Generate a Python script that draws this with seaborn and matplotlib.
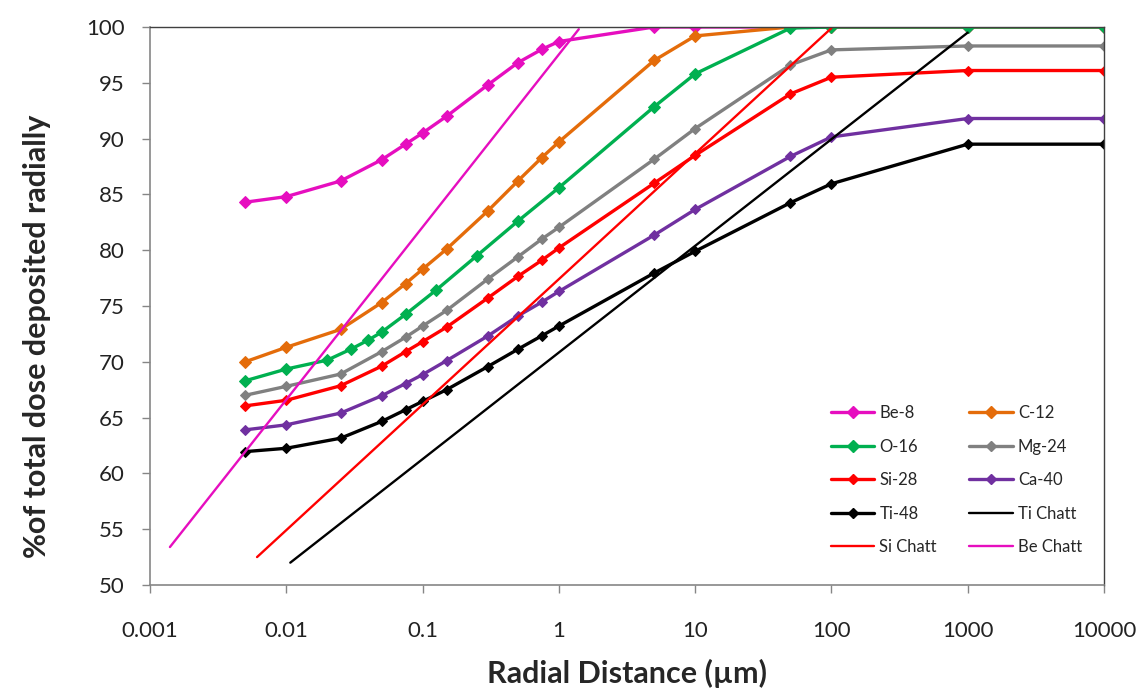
import matplotlib
matplotlib.use("Agg")
import matplotlib.pyplot as plt
import seaborn as sns
from matplotlib.lines import Line2D

# radial distance (um) for the simulated ions
x_std = [0.005, 0.01, 0.025, 0.05, 0.075, 0.1, 0.15, 0.3, 0.5, 0.75, 1,
         5, 10, 50, 100, 1000, 10000]
x_o16 = [0.005, 0.01, 0.02, 0.03, 0.04, 0.05, 0.075, 0.125, 0.25, 0.5, 1,
         5, 10, 50, 100, 1000, 10000]

be8 = [84.3, 84.8, 86.2, 88.1, 89.5, 90.5, 92.0, 94.8, 96.8, 98.0, 98.7,
       100, 100, 100, 100, 100, 100]
c12 = [70.0, 71.3, 72.9, 75.3, 77.0, 78.3, 80.1, 83.5, 86.2, 88.3, 89.7,
       97.0, 99.2, 100, 100, 100, 100]
o16 = [68.3, 69.35, 70.15, 71.15, 71.95, 72.65, 74.25, 76.4, 79.5, 82.6, 85.6,
       92.85, 95.8, 99.9, 100, 100, 100]
mg24 = [67.0, 67.8, 68.9, 70.9, 72.2, 73.2, 74.6, 77.4, 79.4, 81.0, 82.05,
        88.15, 90.9, 96.6, 97.95, 98.3, 98.3]
si28 = [66.05, 66.55, 67.85, 69.6, 70.9, 71.8, 73.1, 75.7, 77.65, 79.1, 80.2,
        86.0, 88.5, 94.0, 95.5, 96.1, 96.1]
ca40 = [63.9, 64.35, 65.4, 66.95, 68.05, 68.85, 70.1, 72.3, 74.1, 75.35, 76.3,
        81.35, 83.65, 88.4, 90.15, 91.8, 91.8]
ti48 = [61.95, 62.25, 63.15, 64.65, 65.7, 66.45, 67.5, 69.56, 71.12, 72.33, 73.2,
        77.95, 79.9, 84.25, 85.95, 89.5, 89.5]

# Chatterjee model lines (straight on the log axis)
ti_chatt_x = [0.0107, 1000]
ti_chatt_y = [52.0, 99.5]
si_chatt_x = [0.0061, 100]
si_chatt_y = [52.5, 99.9]
be_chatt_x = [0.0014, 1.4]
be_chatt_y = [53.4, 99.8]

x_ticks = [0.001, 0.01, 0.1, 1, 10, 100, 1000, 10000]
x_ticklabels = ["0.001", "0.01", "0.1", "1", "10", "100", "1000", "10000"]
y_ticks = list(range(50, 101, 5))

PINK, ORANGE, GREEN = "#E60EBF", "#E46C0A", "#00B050"
GRAY, RED, PURPLE, BLACK = "#808080", "#FF0000", "#7030A0", "#000000"

sns.set_style("white")
plt.rcParams["font.family"] = ["Lato", "DejaVu Sans"]

fig = plt.figure(figsize=(11.4, 6.94), dpi=100)
ax = fig.add_axes([0.1316, 0.1571, 0.8368, 0.804])

ions = [
    ("Be-8", x_std, be8, PINK, 6.5),
    ("C-12", x_std, c12, ORANGE, 6.5),
    ("O-16", x_o16, o16, GREEN, 6.5),
    ("Mg-24", x_std, mg24, GRAY, 5),
    ("Si-28", x_std, si28, RED, 5),
    ("Ca-40", x_std, ca40, PURPLE, 5),
    ("Ti-48", x_std, ti48, BLACK, 5),
]
handles = {}
for name, xs, ys, col, ms in ions:
    sns.lineplot(x=xs, y=ys, ax=ax, color=col, lw=2.4, marker="D", ms=ms,
                 mec=col, mfc=col)
    handles[name] = Line2D([], [], color=col, lw=2.4, marker="D", ms=ms)

for name, xs, ys, col in [("Ti Chatt", ti_chatt_x, ti_chatt_y, BLACK),
                          ("Si Chatt", si_chatt_x, si_chatt_y, RED),
                          ("Be Chatt", be_chatt_x, be_chatt_y, PINK)]:
    sns.lineplot(x=xs, y=ys, ax=ax, color=col, lw=1.7)
    handles[name] = Line2D([], [], color=col, lw=1.7)

ax.set_xscale("log")
ax.set_xlim(0.001, 10000)
ax.set_ylim(50, 100)
ax.set_xticks(x_ticks)
ax.set_xticklabels(x_ticklabels)
ax.xaxis.set_minor_locator(matplotlib.ticker.NullLocator())
ax.set_yticks(y_ticks)
ax.tick_params(axis="both", labelsize=16, length=6, width=1, color="#868686",
               labelcolor="#222222", direction="out", left=True, bottom=True)
ax.tick_params(axis="x", pad=20)
ax.tick_params(axis="y", pad=12)

for s in ["left", "bottom"]:
    ax.spines[s].set_color("#868686")
    ax.spines[s].set_linewidth(1.2)
for s in ["top", "right"]:
    ax.spines[s].set_color("#404040")
    ax.spines[s].set_linewidth(1.0)

ax.set_xlabel("Radial Distance (µm)", fontsize=22, fontweight="bold", labelpad=13)
ax.set_ylabel("%of total dose deposited radially", fontsize=22,
              fontweight="bold")
ax.yaxis.set_label_coords(-0.104, 0.445)

# legend filled row by row like the original
order = ["Be-8", "O-16", "Si-28", "Ti-48", "Si Chatt",
         "C-12", "Mg-24", "Ca-40", "Ti Chatt", "Be Chatt"]
ax.legend([handles[k] for k in order], order, ncol=2, frameon=False,
          loc="upper left", bbox_to_anchor=(0.714, 0.322), fontsize=12,
          handlelength=2.6, handletextpad=0.3, labelspacing=1.05,
          columnspacing=1.95, borderaxespad=0, borderpad=0)

fig.savefig("out.png", dpi=100)
